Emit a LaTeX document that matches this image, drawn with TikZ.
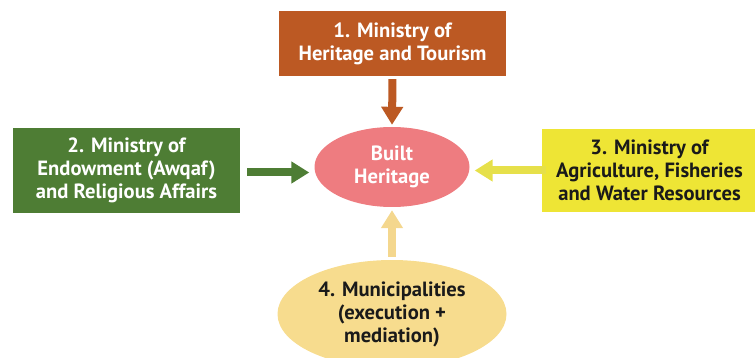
\documentclass[tikz,border=0pt]{standalone}
\usepackage{fontspec}
\setmainfont{PT Sans}
\usetikzlibrary{shapes.geometric,arrows.meta}
\definecolor{cbrown}{HTML}{BC5923}
\definecolor{cgreen}{HTML}{4E7D34}
\definecolor{cyellow}{HTML}{EEE535}
\definecolor{cpink}{HTML}{EE7C80}
\definecolor{ctan}{HTML}{F7DC8E}
\definecolor{cyarrow}{HTML}{E6E04A}
\definecolor{ctarrow}{HTML}{F4D78E}
\definecolor{ctext}{HTML}{1A1A1A}
\tikzset{
  box/.style={rectangle, inner sep=0pt, align=center, font=\fontsize{20.6}{23}\selectfont\bfseries},
  oval/.style={ellipse, inner sep=0pt, align=center, font=\fontsize{20.6}{23}\selectfont\bfseries},
  fat/.style={line width=8pt, -{Triangle[width=21pt,length=18pt]}}
}
\begin{document}
\begin{tikzpicture}[x=1pt,y=-1pt]
\useasboundingbox (0,0) rectangle (755,358);
\clip (0,0) rectangle (755,358);
\node[box, fill=cbrown, text=white, minimum width=227pt, minimum height=65pt] (min1) at (392.5,43.5) {1. Ministry of\\Heritage and Tourism};
\node[box, fill=cgreen, text=white, minimum width=227pt, minimum height=85pt] (min2) at (126.5,170.5) {2. Ministry of\\Endowment (Awqaf)\\and Religious Affairs};
\node[box, fill=cyellow, text=ctext, minimum width=215pt, minimum height=83pt] (min3) at (649.5,170.5) {3. Ministry of\\Agriculture, Fisheries\\and Water Resources};
\node[oval, fill=cpink, text=white, minimum width=155pt, minimum height=80pt] (core) at (392,167) {Built\\Heritage};
\node[oval, fill=ctan, text=ctext, minimum width=229pt, minimum height=108pt] (muni) at (392,314) {4. Municipalities\\(execution +\\mediation)};
\draw[fat, draw=cbrown, fill=cbrown, shorten <=3pt, shorten >=2pt] (min1.south) -- (core.north);
\draw[fat, draw=cgreen, fill=cgreen, shorten <=7pt, shorten >=5pt] ([yshift=-2pt]min2.east) -- ([yshift=-2pt]core.west |- min2.east);
\draw[fat, draw=cyarrow, fill=cyarrow, shorten <=-4pt, shorten >=5pt] (min3.west) -- (core.east |- min3.west);
\draw[fat, draw=ctarrow, fill=ctarrow, shorten <=3pt, shorten >=3pt] (muni.north) -- (core.south);
\end{tikzpicture}
\end{document}
